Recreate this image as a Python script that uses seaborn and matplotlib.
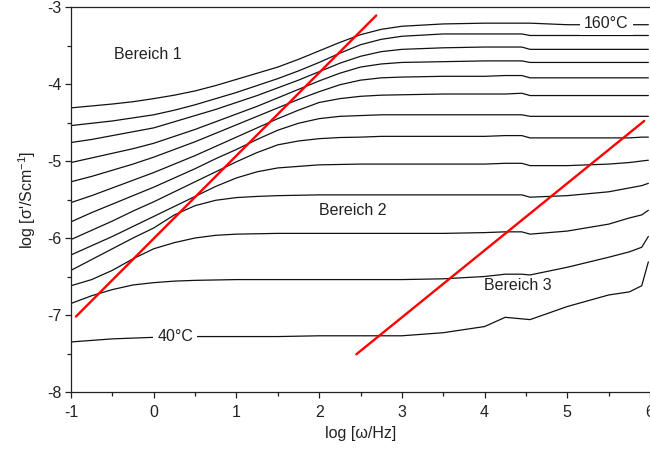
import numpy as np
import pandas as pd
import matplotlib
matplotlib.use("Agg")
import matplotlib.pyplot as plt
from matplotlib.ticker import MultipleLocator
import seaborn as sns

# ---------------- data ----------------
log_omega = [-1.0, -0.75, -0.5, -0.25, 0.0, 0.25, 0.5, 0.75, 1.0, 1.25, 1.5, 1.75, 2.0,
             2.25, 2.5, 2.75, 3.0, 3.5, 4.0, 4.25, 4.45, 4.55, 5.0, 5.5, 5.75, 5.9, 5.98]

temperatures = [160, 150, 140, 130, 120, 110, 100, 90, 80, 70, 60, 50, 40]

sigma_160 = [-4.31, -4.285, -4.26, -4.23, -4.19, -4.145, -4.09, -4.02, -3.94, -3.86, -3.78,
             -3.68, -3.57, -3.46, -3.36, -3.29, -3.25,
             -3.22, -3.21, -3.21, -3.21, -3.21, -3.23, -3.23, -3.23, -3.23, -3.23]
sigma_150 = [-4.54, -4.51, -4.48, -4.44, -4.40, -4.34, -4.27, -4.19, -4.11, -4.02, -3.93,
             -3.83, -3.72, -3.60, -3.49, -3.42, -3.38,
             -3.35, -3.35, -3.35, -3.35, -3.37, -3.37, -3.37, -3.37, -3.37, -3.37]
sigma_140 = [-4.76, -4.72, -4.67, -4.62, -4.57, -4.49, -4.41, -4.33, -4.24, -4.15, -4.05,
             -3.95, -3.84, -3.73, -3.64, -3.58, -3.55,
             -3.53, -3.52, -3.52, -3.52, -3.55, -3.55, -3.55, -3.55, -3.55, -3.55]
sigma_130 = [-5.02, -4.96, -4.90, -4.84, -4.77, -4.68, -4.59, -4.49, -4.39, -4.29, -4.18,
             -4.07, -3.96, -3.86, -3.78, -3.74, -3.72,
             -3.71, -3.70, -3.70, -3.70, -3.72, -3.72, -3.72, -3.72, -3.72, -3.72]
sigma_120 = [-5.27, -5.20, -5.12, -5.04, -4.95, -4.85, -4.75, -4.64, -4.53, -4.42, -4.31,
             -4.20, -4.10, -4.01, -3.95, -3.92, -3.91,
             -3.90, -3.90, -3.89, -3.89, -3.92, -3.92, -3.92, -3.92, -3.92, -3.92]
sigma_110 = [-5.54, -5.45, -5.35, -5.25, -5.15, -5.04, -4.93, -4.81, -4.69, -4.57, -4.45,
             -4.34, -4.24, -4.19, -4.16, -4.145, -4.14,
             -4.13, -4.13, -4.13, -4.12, -4.15, -4.15, -4.15, -4.15, -4.15, -4.15]
sigma_100 = [-5.79, -5.67, -5.56, -5.45, -5.34, -5.22, -5.10, -4.97, -4.85, -4.72, -4.60,
             -4.51, -4.45, -4.42, -4.41, -4.40, -4.40,
             -4.40, -4.40, -4.40, -4.40, -4.42, -4.42, -4.42, -4.42, -4.42, -4.42]
sigma_90 = [-6.02, -5.90, -5.78, -5.65, -5.53, -5.40, -5.27, -5.14, -5.01, -4.89, -4.79,
            -4.74, -4.71, -4.695, -4.69, -4.68, -4.68,
            -4.68, -4.68, -4.67, -4.67, -4.70, -4.70, -4.70, -4.70, -4.69, -4.69]
sigma_80 = [-6.22, -6.10, -5.98, -5.85, -5.72, -5.59, -5.46, -5.33, -5.22, -5.14, -5.09,
            -5.07, -5.05, -5.045, -5.04, -5.04, -5.04,
            -5.04, -5.04, -5.03, -5.03, -5.06, -5.06, -5.04, -5.02, -5.00, -4.99]
sigma_70 = [-6.42, -6.28, -6.14, -6.00, -5.87, -5.70, -5.58, -5.51, -5.475, -5.46, -5.45,
            -5.445, -5.44, -5.44, -5.44, -5.44, -5.44,
            -5.44, -5.44, -5.44, -5.44, -5.47, -5.45, -5.40, -5.35, -5.32, -5.29]
sigma_60 = [-6.62, -6.54, -6.42, -6.27, -6.14, -6.06, -6.00, -5.965, -5.95, -5.945, -5.94,
            -5.94, -5.94, -5.94, -5.94, -5.94, -5.94,
            -5.94, -5.93, -5.92, -5.92, -5.95, -5.91, -5.82, -5.74, -5.70, -5.64]
sigma_50 = [-6.85, -6.75, -6.67, -6.61, -6.58, -6.56, -6.55, -6.545, -6.54, -6.54, -6.54,
            -6.54, -6.54, -6.54, -6.54, -6.54, -6.54,
            -6.53, -6.50, -6.47, -6.47, -6.48, -6.38, -6.25, -6.18, -6.12, -5.98]
sigma_40 = [-7.35, -7.33, -7.31, -7.30, -7.29, -7.285, -7.28, -7.28, -7.28, -7.28, -7.28,
            -7.275, -7.27, -7.27, -7.27, -7.27, -7.27,
            -7.23, -7.15, -7.03, -7.05, -7.06, -6.89, -6.74, -6.70, -6.62, -6.31]

all_sigma = [sigma_160, sigma_150, sigma_140, sigma_130, sigma_120, sigma_110, sigma_100,
             sigma_90, sigma_80, sigma_70, sigma_60, sigma_50, sigma_40]

# red guide lines (end points)
red1_x = [-0.94, 2.69]
red1_y = [-7.02, -3.11]
red2_x = [2.45, 5.93]
red2_y = [-7.51, -4.48]

# ---------------- styling ----------------
sns.set_style("ticks")
plt.rcParams["font.family"] = ["Liberation Sans", "DejaVu Sans"]
plt.rcParams["axes.unicode_minus"] = False
plt.rcParams["mathtext.fontset"] = "custom"
plt.rcParams["mathtext.rm"] = "Liberation Sans"
plt.rcParams["mathtext.it"] = "Liberation Sans:italic"
plt.rcParams["mathtext.bf"] = "Liberation Sans:bold"

FS = 11.5
INK = "#222222"

rows = []
for t, s in zip(temperatures, all_sigma):
    for x, y in zip(log_omega, s):
        rows.append({"logw": x, "sigma": y, "T": t})
df = pd.DataFrame(rows)

fig = plt.figure(figsize=(6.5, 4.5), dpi=100)
ax = fig.add_axes([71 / 650, 1 - 392 / 450, (650 - 71) / 650, (392 - 7) / 450])

sns.lineplot(data=df, x="logw", y="sigma", hue="T", units="T", estimator=None,
             palette=["#111111"] * len(temperatures), legend=False, linewidth=0.9,
             sort=False, ax=ax)

sns.lineplot(x=red1_x, y=red1_y, color="#ff0000", linewidth=1.7, ax=ax)
sns.lineplot(x=red2_x, y=red2_y, color="#ff0000", linewidth=1.7, ax=ax)

ax.set_xlim(-1, 6)
ax.set_ylim(-8, -3)
ax.xaxis.set_major_locator(MultipleLocator(1))
ax.xaxis.set_minor_locator(MultipleLocator(0.5))
ax.yaxis.set_major_locator(MultipleLocator(1))
ax.yaxis.set_minor_locator(MultipleLocator(0.5))
ax.tick_params(which="major", length=4.5, width=0.9, direction="out", labelsize=FS,
               colors=INK)
ax.tick_params(which="minor", length=2.8, width=0.9, direction="out", colors=INK)
ax.tick_params(axis="x", which="major", pad=5)
ax.tick_params(axis="y", which="major", pad=2)

for side in ["left", "bottom", "top"]:
    ax.spines[side].set_visible(True)
    ax.spines[side].set_linewidth(0.9)
    ax.spines[side].set_color(INK)
ax.spines["right"].set_visible(False)

ax.set_xlabel("log [ω/Hz]", fontsize=FS, labelpad=4, color=INK)
ax.set_ylabel("log [σ'/Scm$^{\\mathregular{-1}}$]", fontsize=FS, labelpad=7, color=INK)

ax.text(-0.07, -3.62, "Bereich 1", fontsize=FS, ha="center", va="center", color=INK)
ax.text(2.41, -5.64, "Bereich 2", fontsize=FS, ha="center", va="center", color=INK)
ax.text(4.40, -6.62, "Bereich 3", fontsize=FS, ha="center", va="center", color=INK)
ax.text(0.26, -7.28, "40°C", fontsize=FS, ha="center", va="center", color=INK,
        bbox=dict(facecolor="white", edgecolor="none", pad=3))
ax.text(5.47, -3.21, "160°C", fontsize=FS, ha="center", va="center", color=INK,
        bbox=dict(facecolor="white", edgecolor="none", pad=3))

fig.savefig("out.png", dpi=100)
